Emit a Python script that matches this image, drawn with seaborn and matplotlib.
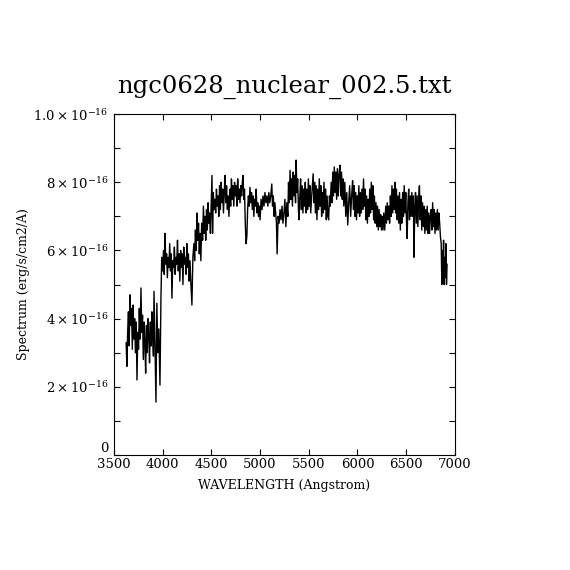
import numpy as np
import pandas as pd
import seaborn as sns
import matplotlib
matplotlib.use("Agg")
import matplotlib.pyplot as plt

# flux in units of 1e-17 erg/s/cm2/A
wave_blue = [3625, 3632, 3640, 3648, 3656, 3664, 3672, 3680, 3688, 3696, 3704, 3712, 3720, 3728,
             3736, 3744, 3752, 3760, 3768, 3777, 3785, 3793, 3801, 3809, 3817, 3825, 3833, 3841,
             3849, 3857, 3865, 3873, 3881, 3889, 3897, 3905, 3911, 3920, 3931, 3940, 3950, 3960,
             3972, 3982, 3990]
flux_blue = [3.3, 2.6, 3.6, 4.2, 3.2, 4.7, 3.8, 4.3, 3.1, 4.4, 3.4, 4.0, 3.0, 3.9,
             2.2, 3.6, 3.1, 4.3, 3.4, 4.9, 3.6, 4.1, 2.8, 3.9, 3.3, 2.4, 3.8, 3.0,
             4.0, 3.5, 2.7, 3.9, 3.2, 4.2, 3.5, 2.9, 4.8, 3.3, 1.55, 4.45, 3.0, 3.7,
             2.05, 4.6, 5.8]

wave_mid = [4000, 4008, 4016, 4024, 4032, 4040, 4048, 4056, 4064, 4072, 4080, 4088, 4095, 4104,
            4112, 4120, 4128, 4136, 4144, 4152, 4160, 4168, 4176, 4184, 4192, 4200, 4208, 4216,
            4224, 4232, 4240, 4248, 4256, 4264, 4272, 4280, 4290, 4300, 4310, 4320, 4328, 4336,
            4344, 4352, 4360, 4368, 4376, 4383, 4392, 4400, 4410, 4418, 4426, 4434, 4442, 4450,
            4458, 4466, 4474, 4482, 4490, 4498, 4506, 4512, 4520, 4528, 4536, 4544, 4552, 4560,
            4568, 4576, 4584, 4592, 4600, 4608, 4616, 4624, 4632, 4640, 4648, 4656, 4664, 4672,
            4680, 4690, 4698, 4706, 4714, 4722, 4730, 4738, 4746, 4754, 4762, 4770, 4778, 4786,
            4794, 4802, 4810, 4818, 4825, 4832, 4840, 4848, 4856, 4864, 4872, 4880, 4888, 4896,
            4904, 4912, 4920, 4928, 4936, 4944, 4952, 4960, 4968, 4976, 4984, 4992, 5000, 5010,
            5020, 5030, 5040, 5050, 5060, 5070, 5080, 5090, 5100, 5110, 5120, 5128, 5136, 5144,
            5152, 5160, 5168, 5175, 5185, 5195, 5205, 5215, 5225, 5235, 5245, 5255, 5265, 5275,
            5285]
flux_mid = [5.4, 6.0, 5.3, 6.5, 5.6, 5.9, 5.2, 5.8, 5.5, 6.2, 5.4, 5.9, 4.6, 5.7,
            5.5, 6.1, 5.3, 5.8, 5.6, 6.3, 5.4, 5.9, 5.1, 6.0, 5.5, 5.9, 5.0, 6.1,
            5.6, 5.8, 5.3, 6.2, 5.5, 5.9, 5.1, 5.7, 5.0, 4.4, 5.8, 6.2, 5.7, 6.6,
            6.0, 7.1, 6.3, 6.8, 5.9, 6.5, 5.7, 6.8, 6.3, 7.3, 6.5, 7.0, 6.3, 7.2,
            6.6, 7.4, 6.8, 7.1, 6.5, 7.3, 8.2, 6.5, 7.7, 7.2, 7.5, 7.1, 7.8, 7.3,
            7.6, 7.0, 7.9, 7.2, 8.0, 7.4, 7.8, 7.1, 7.7, 8.2, 7.4, 7.9, 7.2, 7.6,
            7.0, 7.8, 7.3, 8.1, 7.5, 7.9, 7.3, 8.0, 7.6, 7.9, 7.3, 8.1, 7.5, 7.8,
            7.4, 7.9, 7.6, 8.0, 8.2, 7.5, 7.8, 6.8, 6.2, 6.4, 7.2, 7.6, 7.3, 7.85,
            7.4, 7.7, 7.2, 7.6, 7.0, 7.5, 7.3, 7.8, 7.1, 7.4, 7.0, 7.3, 6.9, 7.5,
            7.2, 7.6, 7.3, 7.7, 7.4, 7.6, 7.3, 7.7, 7.4, 7.6, 7.95, 7.3, 7.6, 7.0,
            7.4, 7.1, 6.8, 5.9, 7.0, 6.8, 7.2, 6.9, 7.3, 6.8, 7.1, 7.5, 6.7, 7.4,
            7.0]

wave_red = [5292, 5300, 5308, 5316, 5324, 5332, 5340, 5348, 5356, 5364, 5370, 5378, 5386, 5394,
            5400, 5408, 5416, 5424, 5432, 5440, 5448, 5456, 5464, 5472, 5480, 5488, 5496, 5504,
            5512, 5520, 5530, 5545, 5552, 5560, 5568, 5576, 5584, 5592, 5600, 5608, 5616, 5624,
            5632, 5640, 5648, 5656, 5664, 5672, 5680, 5688, 5696, 5704, 5712, 5720, 5730, 5738,
            5746, 5754, 5762, 5770, 5778, 5786, 5794, 5802, 5810, 5820, 5828, 5836, 5844, 5852,
            5860, 5870, 5880, 5890, 5900, 5910, 5920, 5930, 5940, 5950, 5958, 5966, 5974, 5982,
            5990, 5998, 6006, 6014, 6022, 6030, 6038, 6046, 6054, 6062, 6070, 6078, 6086, 6094,
            6102, 6110, 6118, 6126, 6134, 6142, 6150, 6158, 6166, 6174, 6182, 6190, 6198, 6206,
            6214, 6222, 6230, 6238, 6246, 6254, 6262, 6270, 6280, 6290, 6298, 6306, 6314, 6322,
            6330, 6338, 6346, 6354, 6362, 6370, 6378, 6385, 6392, 6400, 6408, 6416, 6424, 6432,
            6440, 6448, 6456, 6464, 6472, 6480, 6488, 6496, 6504, 6510, 6518, 6526, 6534, 6542,
            6550, 6558, 6566, 6574, 6580, 6588, 6596, 6604, 6612, 6620, 6628, 6636, 6644, 6652,
            6660, 6668, 6676, 6684, 6692, 6700, 6708, 6716, 6724, 6732, 6740, 6748, 6756, 6764,
            6772, 6780, 6788, 6796, 6804, 6812, 6820, 6828, 6836, 6844, 6852, 6860, 6866, 6872,
            6878, 6884, 6890, 6896, 6902, 6908, 6914, 6920]
flux_red = [8.0, 7.4, 8.35, 7.5, 8.1, 7.3, 8.3, 7.6, 8.2, 7.4, 8.65, 7.7, 8.1, 7.2,
            6.9, 7.6, 8.1, 7.2, 7.9, 7.1, 7.8, 7.3, 8.0, 7.1, 7.8, 7.2, 8.1, 7.3,
            7.9, 7.1, 7.6, 8.25, 7.4, 8.0, 7.1, 7.9, 6.9, 7.8, 7.2, 8.1, 7.3, 7.9,
            7.0, 7.7, 7.1, 8.0, 7.2, 7.8, 6.9, 7.6, 7.0, 6.9, 7.6, 7.3, 8.0, 7.4,
            8.3, 7.6, 8.45, 7.7, 8.3, 7.5, 8.4, 7.6, 8.2, 8.5, 7.6, 8.3, 7.5, 8.1,
            7.3, 8.0, 7.0, 7.7, 6.75, 7.4, 7.9, 7.0, 7.6, 8.05, 7.2, 7.9, 7.0, 7.7,
            6.9, 7.6, 7.1, 7.9, 7.0, 7.7, 7.1, 7.8, 7.2, 8.1, 7.3, 7.8, 6.9, 7.6,
            6.8, 7.5, 7.0, 7.8, 7.1, 8.0, 7.2, 7.9, 6.9, 7.6, 6.8, 7.4, 6.7, 7.3,
            6.6, 7.2, 6.7, 7.05, 6.6, 7.0, 6.6, 7.1, 6.6, 7.3, 6.8, 7.4, 6.9, 7.3,
            6.8, 7.6, 7.0, 7.9, 7.1, 7.8, 7.2, 8.0, 7.1, 7.8, 6.9, 7.6, 6.8, 7.7,
            6.6, 7.5, 6.8, 7.7, 7.0, 7.9, 7.1, 7.7, 6.8, 6.35, 7.4, 7.8, 6.9, 7.6,
            7.0, 7.7, 7.0, 7.6, 5.8, 7.2, 7.7, 6.8, 7.6, 6.7, 7.5, 7.9, 6.9, 7.6,
            6.6, 7.4, 6.7, 7.3, 6.5, 7.2, 6.6, 7.3, 6.5, 7.1, 6.5, 7.0, 7.2, 6.6,
            7.4, 6.7, 7.2, 6.5, 7.1, 6.6, 7.2, 6.6, 7.1, 6.8, 6.4, 6.2, 5.0, 6.0,
            5.3, 6.3, 5.0, 5.8, 5.2, 6.2, 5.0, 5.6]

x_ticks = [3500, 4000, 4500, 5000, 5500, 6000, 6500, 7000]
y_ticks = [0, 1, 2, 3, 4, 5, 6, 7, 8, 9, 10]
y_tick_labels = ["0", "", r"$2\times10^{-16}$", "", r"$4\times10^{-16}$", "",
                 r"$6\times10^{-16}$", "", r"$8\times10^{-16}$", "", r"$1.0\times10^{-16}$"]

df = pd.DataFrame({
    "wave": wave_blue + wave_mid + wave_red,
    "flux": flux_blue + flux_mid + flux_red,
})

sns.set_theme(style="ticks")
plt.rcParams["font.family"] = ["DejaVu Serif"]
plt.rcParams["mathtext.fontset"] = "dejavuserif"
plt.rcParams["text.color"] = "black"
plt.rcParams["axes.labelcolor"] = "black"

fig = plt.figure(figsize=(5.7, 5.7), dpi=100)
ax = fig.add_axes([0.2, 0.2018, 0.598, 0.598])

sns.lineplot(data=df, x="wave", y="flux", color="black", linewidth=1.0,
             sort=False, estimator=None, ax=ax)

ax.set_xlim(3500, 7000)
ax.set_ylim(0, 10)
ax.set_xticks(x_ticks)
ax.set_xticklabels([str(t) for t in x_ticks])
ax.set_yticks(y_ticks)
ax.set_yticklabels(y_tick_labels)
ax.tick_params(direction="in", length=4, width=0.8, top=True, right=True,
               labelsize=9.5, colors="black")
ax.tick_params(axis="x", pad=2.5)
ax.tick_params(axis="y", pad=4)
# lift the "0" label a little so it clears "3500"
ax.get_yticklabels()[0].set_verticalalignment("bottom")
for sp in ax.spines.values():
    sp.set_linewidth(0.8)
    sp.set_color("black")

ax.set_title("ngc0628_nuclear_002.5.txt", fontsize=17.5, pad=15, color="black")
ax.set_xlabel("WAVELENGTH (Angstrom)", fontsize=9)
ax.set_ylabel("Spectrum (erg/s/cm2/A)", fontsize=9)
ax.xaxis.set_label_coords(0.5, -0.07)
ax.yaxis.set_label_coords(-0.245, 0.5)

fig.savefig("out.png", dpi=100, facecolor="white")
